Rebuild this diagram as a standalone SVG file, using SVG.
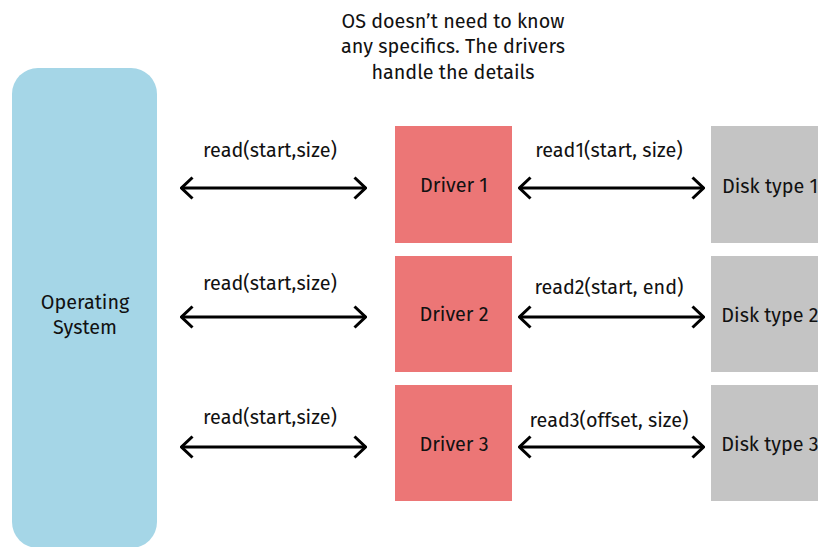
<svg xmlns="http://www.w3.org/2000/svg" width="818" height="547" viewBox="0 0 818 547">
  <style>
    text { font-family: "Fira Sans", "Open Sans", "Noto Sans", sans-serif; font-size: 19.8px; fill: #111; text-anchor: middle; }
    .os { fill: #a5d6e7; }
    .drv { fill: #ec7676; }
    .disk { fill: #c4c4c4; }
    .conn line, .conn path { stroke: #000; stroke-width: 3; fill: none; }
  </style>
  <defs>
    <marker id="head" viewBox="0 0 14 24" refX="13" refY="12" markerWidth="14" markerHeight="24" markerUnits="userSpaceOnUse" orient="auto-start-reverse">
      <path d="M1.5 1.5 L12.5 12 L1.5 22.5" fill="none" stroke="#000" stroke-width="3"/>
    </marker>
  </defs>

  <!-- caption -->
  <g id="note">
    <text x="453" y="28">OS doesn’t need to know</text>
    <text x="453" y="53">any specifics. The drivers</text>
    <text x="453" y="79">handle the details</text>
  </g>

  <!-- operating system -->
  <g id="os">
    <rect class="os" x="12" y="68" width="145" height="480" rx="26"/>
    <text x="85" y="309">Operating</text>
    <text x="85" y="334">System</text>
  </g>

  <!-- drivers -->
  <g id="driver1">
    <rect class="drv" x="395" y="126" width="117" height="117"/>
    <text x="454" y="192">Driver 1</text>
  </g>
  <g id="driver2">
    <rect class="drv" x="395" y="256" width="117" height="116"/>
    <text x="454" y="321">Driver 2</text>
  </g>
  <g id="driver3">
    <rect class="drv" x="395" y="385" width="117" height="116"/>
    <text x="454" y="451">Driver 3</text>
  </g>

  <!-- disks -->
  <g id="disk1">
    <rect class="disk" x="711" y="126" width="120" height="117"/>
    <text x="770" y="193">Disk type 1</text>
  </g>
  <g id="disk2">
    <rect class="disk" x="711" y="256" width="120" height="116"/>
    <text x="770" y="322">Disk type 2</text>
  </g>
  <g id="disk3">
    <rect class="disk" x="711" y="385" width="120" height="116"/>
    <text x="770" y="451">Disk type 3</text>
  </g>

  <!-- connectors -->
  <g class="conn" id="connectors">
    <line x1="181" y1="188" x2="366" y2="188" marker-start="url(#head)" marker-end="url(#head)"/>
    <line x1="181" y1="317" x2="366" y2="317" marker-start="url(#head)" marker-end="url(#head)"/>
    <line x1="181" y1="447" x2="366" y2="447" marker-start="url(#head)" marker-end="url(#head)"/>
    <line x1="519" y1="188" x2="704" y2="188" marker-start="url(#head)" marker-end="url(#head)"/>
    <line x1="519" y1="317" x2="704" y2="317" marker-start="url(#head)" marker-end="url(#head)"/>
    <line x1="519" y1="447" x2="704" y2="447" marker-start="url(#head)" marker-end="url(#head)"/>
    <text x="270" y="157">read(start,size)</text>
    <text x="270" y="290">read(start,size)</text>
    <text x="270" y="424">read(start,size)</text>
    <text x="609" y="157">read1(start, size)</text>
    <text x="609" y="294">read2(start, end)</text>
    <text x="609" y="427">read3(offset, size)</text>
  </g>
</svg>
